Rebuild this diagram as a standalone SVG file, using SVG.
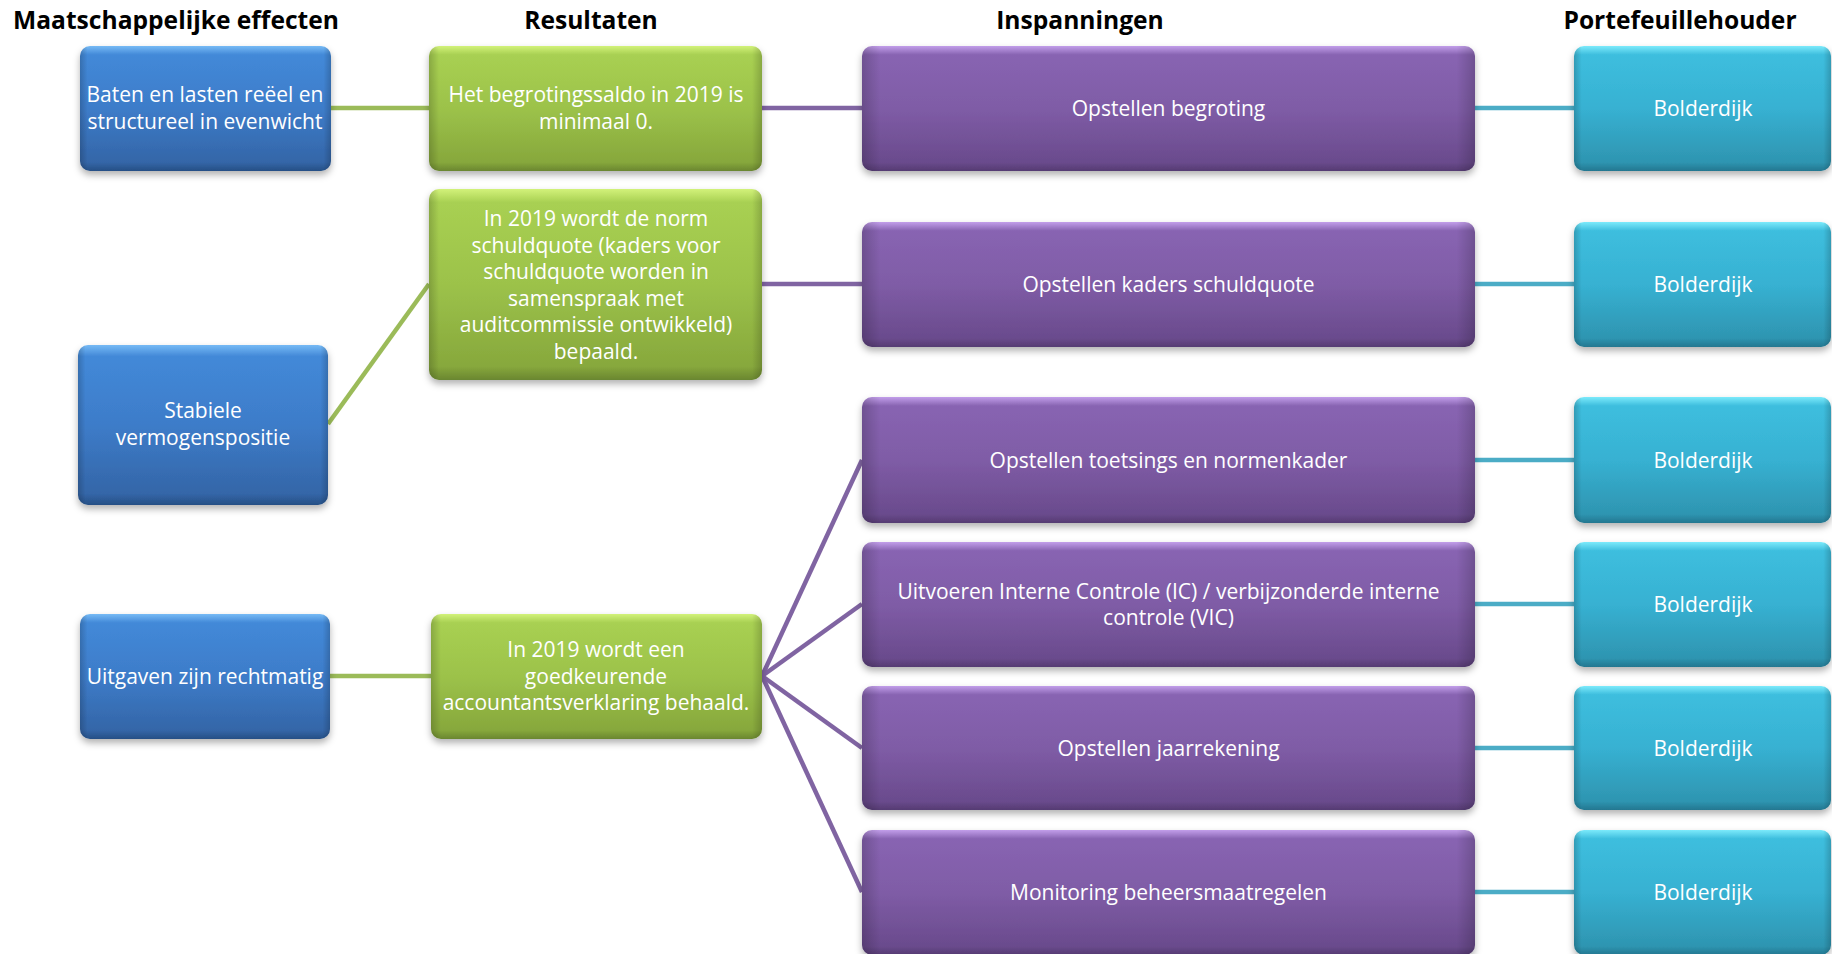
<svg xmlns="http://www.w3.org/2000/svg" width="1832" height="954" viewBox="0 0 1832 954">
<style>
.hdr{font-family:"Open Sans","Liberation Sans",sans-serif;font-weight:bold;font-size:24.6px;fill:#000;text-anchor:middle}
.t{font-family:"Open Sans","Liberation Sans",sans-serif;font-size:21px;fill:#fff;text-anchor:middle}
.box{filter:url(#sh)}
.side{fill:url(#side)}
.cg{stroke:#9BBB59;stroke-width:4.5;fill:none}
.cp{stroke:#8064A2;stroke-width:4.5;fill:none}
.cc{stroke:#4BACC6;stroke-width:4.5;fill:none}
</style>
<defs>
<filter id="sh" x="-10%" y="-10%" width="120%" height="130%">
<feDropShadow dx="0" dy="4" stdDeviation="3.5" flood-color="#000" flood-opacity="0.3"/>
</filter>
<linearGradient id="gb" x1="0" y1="0" x2="0" y2="1">
<stop offset="0" stop-color="#76BAF5"/><stop offset="0.07" stop-color="#4389D8"/><stop offset="0.5" stop-color="#3D7CC9"/><stop offset="0.93" stop-color="#3466A8"/><stop offset="1" stop-color="#264F85"/>
</linearGradient>
<linearGradient id="gg" x1="0" y1="0" x2="0" y2="1">
<stop offset="0" stop-color="#D2F27A"/><stop offset="0.07" stop-color="#A8D052"/><stop offset="0.5" stop-color="#9CC24A"/><stop offset="0.93" stop-color="#87A83C"/><stop offset="1" stop-color="#6A8630"/>
</linearGradient>
<linearGradient id="gp" x1="0" y1="0" x2="0" y2="1">
<stop offset="0" stop-color="#C29EEA"/><stop offset="0.07" stop-color="#8864B2"/><stop offset="0.5" stop-color="#7F5CA6"/><stop offset="0.93" stop-color="#6A4B8D"/><stop offset="1" stop-color="#553B72"/>
</linearGradient>
<linearGradient id="gc" x1="0" y1="0" x2="0" y2="1">
<stop offset="0" stop-color="#7CEAFB"/><stop offset="0.07" stop-color="#3DBEDE"/><stop offset="0.5" stop-color="#37B1D2"/><stop offset="0.93" stop-color="#2E95B1"/><stop offset="1" stop-color="#247790"/>
</linearGradient>
<linearGradient id="side" x1="0" y1="0" x2="1" y2="0">
<stop offset="0" stop-color="#000" stop-opacity="0.18"/><stop offset="0.03" stop-color="#000" stop-opacity="0"/><stop offset="0.97" stop-color="#000" stop-opacity="0"/><stop offset="1" stop-color="#000" stop-opacity="0.18"/>
</linearGradient>
</defs>
<rect width="1832" height="954" fill="#fff"/>

<g id="headers">
<text class="hdr" x="176" y="29">Maatschappelijke effecten</text>
<text class="hdr" x="591" y="29">Resultaten</text>
<text class="hdr" x="1080" y="29">Inspanningen</text>
<text class="hdr" x="1680" y="29">Portefeuillehouder</text>
</g>

<g id="connectors">
<path class="cg" d="M331 108H429"/>
<path class="cg" d="M328 424L429 284"/>
<path class="cg" d="M330 676H431"/>
<path class="cp" d="M762 108H862"/>
<path class="cp" d="M762 284H862"/>
<path class="cp" d="M762 676L862 460"/>
<path class="cp" d="M762 676L862 604"/>
<path class="cp" d="M762 676L862 748"/>
<path class="cp" d="M762 676L862 892"/>
<path class="cc" d="M1475 108H1574"/>
<path class="cc" d="M1475 284H1574"/>
<path class="cc" d="M1475 460H1574"/>
<path class="cc" d="M1475 604H1574"/>
<path class="cc" d="M1475 748H1574"/>
<path class="cc" d="M1475 892H1574"/>
</g>

<g id="effect1">
<rect class="box" x="80" y="46" width="251" height="125" rx="10" fill="url(#gb)"/>
<rect class="side" x="80" y="46" width="251" height="125" rx="10"/>
<text class="t" x="205" y="102">Baten en lasten reëel en</text>
<text class="t" x="205" y="128.5">structureel in evenwicht</text>
</g>
<g id="effect2">
<rect class="box" x="78" y="345" width="250" height="160" rx="10" fill="url(#gb)"/>
<rect class="side" x="78" y="345" width="250" height="160" rx="10"/>
<text class="t" x="203" y="418">Stabiele</text>
<text class="t" x="203" y="445">vermogenspositie</text>
</g>
<g id="effect3">
<rect class="box" x="80" y="614" width="250" height="125" rx="10" fill="url(#gb)"/>
<rect class="side" x="80" y="614" width="250" height="125" rx="10"/>
<text class="t" x="205" y="684">Uitgaven zijn rechtmatig</text>
</g>

<g id="result1">
<rect class="box" x="429" y="46" width="333" height="125" rx="10" fill="url(#gg)"/>
<rect class="side" x="429" y="46" width="333" height="125" rx="10"/>
<text class="t" x="596" y="102">Het begrotingssaldo in 2019 is</text>
<text class="t" x="596" y="128.5">minimaal 0.</text>
</g>
<g id="result2">
<rect class="box" x="429" y="189" width="333" height="191" rx="10" fill="url(#gg)"/>
<rect class="side" x="429" y="189" width="333" height="191" rx="10"/>
<text class="t" x="596" y="226">In 2019 wordt de norm</text>
<text class="t" x="596" y="252.5">schuldquote (kaders voor</text>
<text class="t" x="596" y="279">schuldquote worden in</text>
<text class="t" x="596" y="305.5">samenspraak met</text>
<text class="t" x="596" y="332">auditcommissie ontwikkeld)</text>
<text class="t" x="596" y="358.5">bepaald.</text>
</g>
<g id="result3">
<rect class="box" x="431" y="614" width="331" height="125" rx="10" fill="url(#gg)"/>
<rect class="side" x="431" y="614" width="331" height="125" rx="10"/>
<text class="t" x="596" y="657">In 2019 wordt een</text>
<text class="t" x="596" y="683.5">goedkeurende</text>
<text class="t" x="596" y="710">accountantsverklaring behaald.</text>
</g>

<g id="effort1">
<rect class="box" x="862" y="46" width="613" height="125" rx="10" fill="url(#gp)"/>
<rect class="side" x="862" y="46" width="613" height="125" rx="10"/>
<text class="t" x="1168.5" y="116">Opstellen begroting</text>
</g>
<g id="effort2">
<rect class="box" x="862" y="222" width="613" height="125" rx="10" fill="url(#gp)"/>
<rect class="side" x="862" y="222" width="613" height="125" rx="10"/>
<text class="t" x="1168.5" y="291.5">Opstellen kaders schuldquote</text>
</g>
<g id="effort3">
<rect class="box" x="862" y="397" width="613" height="126" rx="10" fill="url(#gp)"/>
<rect class="side" x="862" y="397" width="613" height="126" rx="10"/>
<text class="t" x="1168.5" y="468">Opstellen toetsings en normenkader</text>
</g>
<g id="effort4">
<rect class="box" x="862" y="542" width="613" height="125" rx="10" fill="url(#gp)"/>
<rect class="side" x="862" y="542" width="613" height="125" rx="10"/>
<text class="t" x="1168.5" y="598.5">Uitvoeren Interne Controle (IC) / verbijzonderde interne</text>
<text class="t" x="1168.5" y="625">controle (VIC)</text>
</g>
<g id="effort5">
<rect class="box" x="862" y="686" width="613" height="124" rx="10" fill="url(#gp)"/>
<rect class="side" x="862" y="686" width="613" height="124" rx="10"/>
<text class="t" x="1168.5" y="755.5">Opstellen jaarrekening</text>
</g>
<g id="effort6">
<rect class="box" x="862" y="830" width="613" height="125" rx="10" fill="url(#gp)"/>
<rect class="side" x="862" y="830" width="613" height="125" rx="10"/>
<text class="t" x="1168.5" y="899.5">Monitoring beheersmaatregelen</text>
</g>

<g id="owner1">
<rect class="box" x="1574" y="46" width="257" height="125" rx="10" fill="url(#gc)"/>
<rect class="side" x="1574" y="46" width="257" height="125" rx="10"/>
<text class="t" x="1703" y="116">Bolderdijk</text>
</g>
<g id="owner2">
<rect class="box" x="1574" y="222" width="257" height="125" rx="10" fill="url(#gc)"/>
<rect class="side" x="1574" y="222" width="257" height="125" rx="10"/>
<text class="t" x="1703" y="291.5">Bolderdijk</text>
</g>
<g id="owner3">
<rect class="box" x="1574" y="397" width="257" height="126" rx="10" fill="url(#gc)"/>
<rect class="side" x="1574" y="397" width="257" height="126" rx="10"/>
<text class="t" x="1703" y="468">Bolderdijk</text>
</g>
<g id="owner4">
<rect class="box" x="1574" y="542" width="257" height="125" rx="10" fill="url(#gc)"/>
<rect class="side" x="1574" y="542" width="257" height="125" rx="10"/>
<text class="t" x="1703" y="612">Bolderdijk</text>
</g>
<g id="owner5">
<rect class="box" x="1574" y="686" width="257" height="124" rx="10" fill="url(#gc)"/>
<rect class="side" x="1574" y="686" width="257" height="124" rx="10"/>
<text class="t" x="1703" y="755.5">Bolderdijk</text>
</g>
<g id="owner6">
<rect class="box" x="1574" y="830" width="257" height="125" rx="10" fill="url(#gc)"/>
<rect class="side" x="1574" y="830" width="257" height="125" rx="10"/>
<text class="t" x="1703" y="899.5">Bolderdijk</text>
</g>
</svg>
